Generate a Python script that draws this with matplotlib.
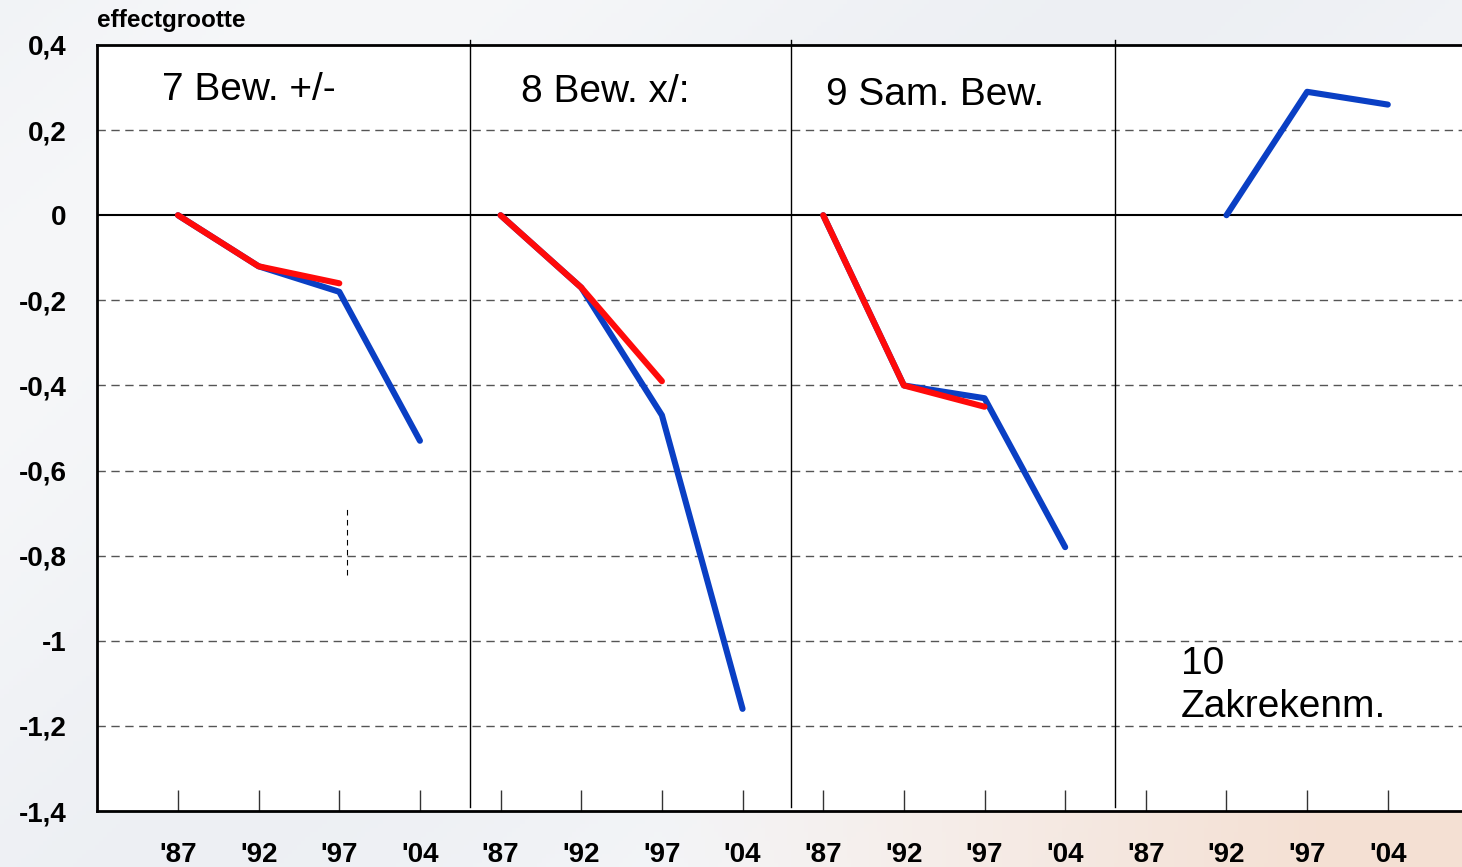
import numpy as np
import matplotlib
matplotlib.use("Agg")
import matplotlib.pyplot as plt

plt.rcParams['font.family'] = ['Liberation Sans', 'DejaVu Sans']

years = ["'87", "'92", "'97", "'04"]
panel_names = ["7 Bew. +/-", "8 Bew. x/:", "9 Sam. Bew.", "10\nZakrekenm."]

# blauw en rood per panel, None = geen waarde
blauw = [
    [0, -0.12, -0.18, -0.53],
    [0, -0.17, -0.47, -1.16],
    [0, -0.40, -0.43, -0.78],
    [None, 0, 0.29, 0.26],
]
rood = [
    [0, -0.12, -0.16, None],
    [0, -0.17, -0.39, None],
    [0, -0.40, -0.45, None],
    [None, None, None, None],
]

yticks = [0.4, 0.2, 0, -0.2, -0.4, -0.6, -0.8, -1, -1.2, -1.4]
ylabels = ["0,4", "0,2", "0", "-0,2", "-0,4", "-0,6", "-0,8", "-1", "-1,2", "-1,4"]

# los streepje in panel 7
streep_x = 2.09
streep_y = (-0.845, -0.69)

fig = plt.figure(figsize=(14.62, 8.67), dpi=100)

# achtergrond verloop
bg = fig.add_axes([0, 0, 1, 1], zorder=-5)
h, w = 200, 340
yy, xx = np.mgrid[0:1:h * 1j, 0:1:w * 1j]
grijs = np.array([0.93, 0.94, 0.955])
wit = np.array([0.985, 0.985, 0.99])
perzik = np.array([0.96, 0.88, 0.83])
swoosh = 0.5 + 0.5 * np.sin(6 * xx + 4 * yy)
img = grijs * (1 - swoosh[..., None] * 0.6) + wit * (swoosh[..., None] * 0.6)
mix = np.clip((xx - 0.45) * 2.2, 0, 1) * np.clip((yy - 0.55) * 3, 0, 1)
img = img * (1 - mix[..., None]) + perzik * mix[..., None]
bg.imshow(img, aspect='auto', extent=[0, 1, 0, 1], origin='upper')
bg.set_axis_off()

ax = fig.add_axes([97 / 1462, 1 - 811 / 867, 1 - 97 / 1462, (811 - 45) / 867])
ax.set_facecolor('white')

x_all = []
for p in range(4):
    x = [p * 4 + i for i in range(4)]
    x_all += x
    b = [np.nan if v is None else v for v in blauw[p]]
    r = [np.nan if v is None else v for v in rood[p]]
    ax.plot(x, b, color='#0a3fc4', lw=4.4, solid_capstyle='round', zorder=4)
    ax.plot(x, r, color='#ff0a0a', lw=4.4, solid_capstyle='round', zorder=5)

ax.set_xlim(-1.004, 15.92)
ax.set_ylim(-1.4, 0.4)

for v in yticks:
    if v == 0:
        ax.axhline(v, color='black', lw=1.5, zorder=3)
    elif -1.4 < v < 0.4:
        ax.axhline(v, color='#555555', lw=1.0, ls=(0, (6, 4)), zorder=2)

for sx in [3.62, 7.6, 11.62]:
    ax.plot([sx, sx], [-1.39, 0.412], color='black', lw=1.0, clip_on=False, zorder=3)

ax.plot([streep_x, streep_x], streep_y, color='black', lw=0.8, ls=(0, (5, 4)), zorder=3)

ax.set_xticks(x_all)
ax.set_xticklabels(years * 4, fontsize=20, fontweight='bold')
ax.tick_params(axis='x', direction='in', length=15, width=1, pad=22, color='#333333')
ax.set_yticks(yticks)
ax.set_yticklabels(ylabels, fontsize=20, fontweight='bold')
ax.tick_params(axis='y', length=0, pad=22)

for s in ['left', 'top', 'bottom']:
    ax.spines[s].set_linewidth(2)
ax.spines['right'].set_visible(False)

ax.text(-0.2, 0.294, panel_names[0], fontsize=28, va='center', ha='left')
ax.text(4.25, 0.289, panel_names[1], fontsize=28, va='center', ha='left')
ax.text(8.03, 0.282, panel_names[2], fontsize=28, va='center', ha='left')
ax.text(12.43, -1.105, panel_names[3], fontsize=28, va='center', ha='left', linespacing=1.26)

fig.text(97 / 1462, 1 - 20 / 867, "effectgrootte", fontsize=17.5, fontweight='bold',
         va='center', ha='left')

fig.savefig("out.png", dpi=100)
